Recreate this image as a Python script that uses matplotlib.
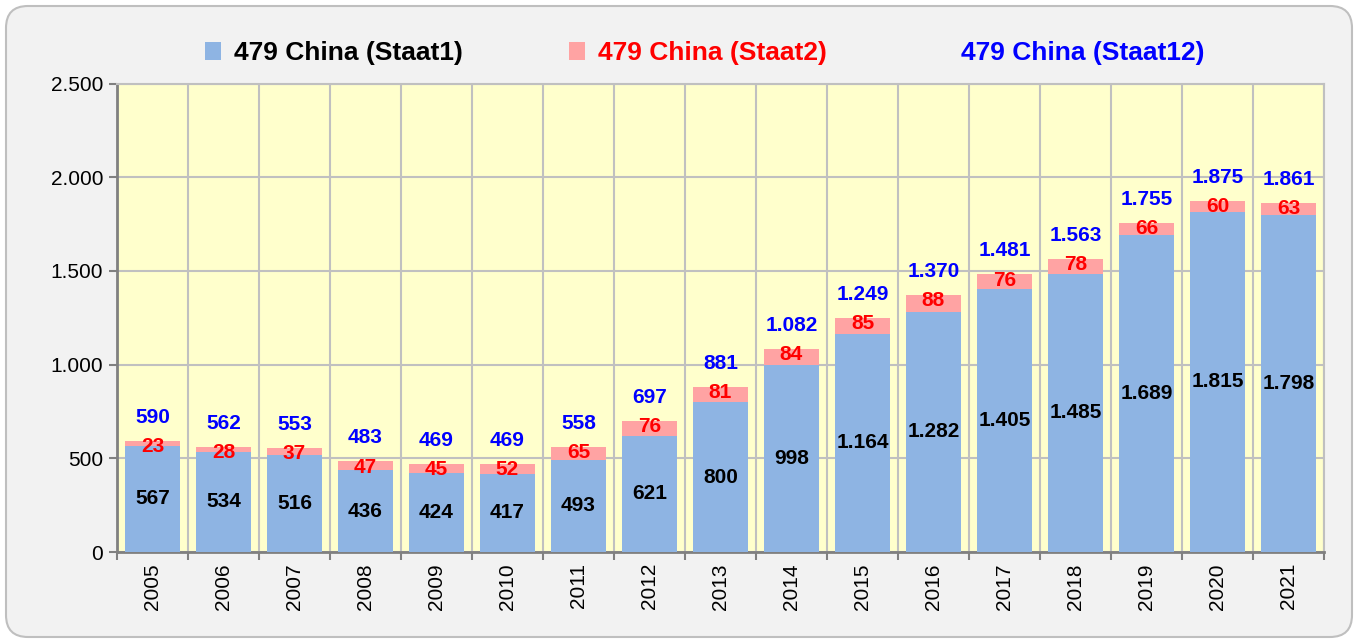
import matplotlib
matplotlib.use("Agg")
import matplotlib.pyplot as plt
import matplotlib.ticker as mticker
from matplotlib.patches import Patch, FancyBboxPatch
from matplotlib.transforms import IdentityTransform
import numpy as np

# Data
years = ["2005", "2006", "2007", "2008", "2009", "2010", "2011", "2012", "2013",
         "2014", "2015", "2016", "2017", "2018", "2019", "2020", "2021"]
staat1 = [567, 534, 516, 436, 424, 417, 493, 621, 800, 998, 1164, 1282, 1405, 1485, 1689, 1815, 1798]
staat2 = [23, 28, 37, 47, 45, 52, 65, 76, 81, 84, 85, 88, 76, 78, 66, 60, 63]
staat12 = [590, 562, 553, 483, 469, 469, 558, 697, 881, 1082, 1249, 1370, 1481, 1563, 1755, 1875, 1861]

def fmt(v):
    return f"{v:,}".replace(",", ".")

plt.rcParams["font.family"] = ["Liberation Sans", "DejaVu Sans"]

fig = plt.figure(figsize=(13.59, 6.42), dpi=100)
fig.patch.set_facecolor("white")

# rounded background box (pixel coords)
box = FancyBboxPatch((6, 5), 1346, 631, boxstyle="round,pad=0,rounding_size=22",
                     transform=IdentityTransform(), facecolor="#F2F2F2",
                     edgecolor="#BFBFBF", linewidth=1.5, zorder=-10)
fig.patches.append(box)

W, H = 1359, 642
ax = fig.add_axes([117 / W, (H - 552) / H, (1324 - 117) / W, (552 - 83.5) / H])
ax.set_facecolor("#FFFFCC")

x = np.arange(len(years))
b1 = ax.bar(x, staat1, width=0.78, color="#8EB4E3", zorder=3)
b2 = ax.bar(x, staat2, width=0.78, bottom=staat1, color="#FFA3A3", zorder=3)

# labels
for xi, v1, v2, vt in zip(x, staat1, staat2, staat12):
    ax.text(xi, v1 / 2, fmt(v1), ha="center", va="center", fontsize=15,
            fontweight="bold", color="black", zorder=5)
    top = v1 + v2
    ax.annotate(fmt(v2), (xi, top), xytext=(0, -4), textcoords="offset points",
                ha="center", va="center", fontsize=15, fontweight="bold",
                color="#FF0000", zorder=5)
    ax.annotate(fmt(vt), (xi, top), xytext=(0, 17), textcoords="offset points",
                ha="center", va="center", fontsize=15, fontweight="bold",
                color="#0000FF", zorder=5)

ax.set_xlim(-0.5, len(years) - 0.5)
ax.set_ylim(0, 2500)
ax.yaxis.set_major_locator(mticker.MultipleLocator(500))
ax.yaxis.set_major_formatter(mticker.FuncFormatter(lambda v, _: fmt(int(v))))

# x: ticks at boundaries, labels at centers
ax.set_xticks(np.arange(-0.5, len(years), 1.0))
ax.set_xticklabels([])
ax.set_xticks(x, minor=True)
ax.set_xticklabels(years, minor=True, rotation=90, fontsize=15)
ax.tick_params(axis="x", which="minor", length=0, pad=8)
ax.tick_params(axis="x", which="major", length=6, width=1.5, color="#808080")
ax.tick_params(axis="y", length=6, width=1.5, color="#808080", labelsize=15, pad=4)

ax.grid(True, which="major", color="#C0C0C0", linewidth=1.5, zorder=0)
ax.set_axisbelow(True)

for s in ["left", "bottom"]:
    ax.spines[s].set_color("#808080")
    ax.spines[s].set_linewidth(2)
for s in ["top", "right"]:
    ax.spines[s].set_color("#C0C0C0")
    ax.spines[s].set_linewidth(1.5)

# legend
handles = [Patch(facecolor="#8EB4E3", edgecolor="none"),
           Patch(facecolor="#FFA3A3", edgecolor="none"),
           Patch(facecolor="none", edgecolor="none")]
labels = ["479 China (Staat1)", "479 China (Staat2)", "479 China (Staat12)"]
leg = fig.legend(handles, labels, loc="center", bbox_to_anchor=(705 / W, (H - 53) / H),
                 ncol=3, frameon=False, handlelength=0.6, handleheight=0.7,
                 handletextpad=0.5, columnspacing=4.0,
                 prop={"size": 19, "weight": "bold"})
for t, c in zip(leg.get_texts(), ["black", "#FF0000", "#0000FF"]):
    t.set_color(c)

fig.savefig("out.png", dpi=100)
